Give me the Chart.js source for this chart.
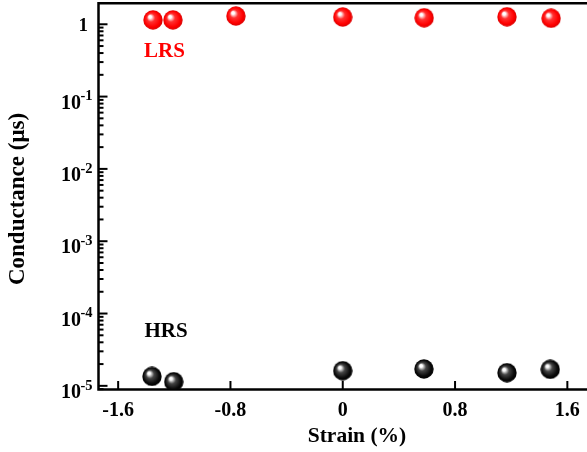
<!DOCTYPE html>
<html>
<head>
<meta charset="utf-8">
<script src="https://cdn.jsdelivr.net/npm/chart.js@4"></script>
<style>
html,body{margin:0;padding:0;background:#fff;overflow:hidden;}
#wrap{width:587px;height:452px;position:relative;}
</style>
</head>
<body>
<div id="wrap"><canvas id="c" width="587" height="452"></canvas></div>
<script>
// ---- data ----
const lrsStrain = [-1.352, -1.210, -0.761, 0, 0.580, 1.170, 1.484];
const lrsConductance = [1.15, 1.15, 1.30, 1.26, 1.23, 1.27, 1.21];
const hrsStrain = [-1.359, -1.204, 0, 0.578, 1.170, 1.478];
const hrsConductance = [1.35e-5, 1.14e-5, 1.62e-5, 1.71e-5, 1.52e-5, 1.69e-5];
const xTicks = [-1.6, -0.8, 0, 0.8, 1.6];
const xTickLabels = ['-1.6', '-0.8', '0', '0.8', '1.6'];
const yTicks = [1, 1e-1, 1e-2, 1e-3, 1e-4, 1e-5];
const yTickExps = ['', '-1', '-2', '-3', '-4', '-5'];
const xTitle = 'Strain (%)';
const yTitle = 'Conductance (μs)';

const FONT = '"Liberation Serif", "Times New Roman", serif';

function sphere(base, mid, edge, hl) {
  const s = 20, c = document.createElement('canvas');
  c.width = s; c.height = s;
  const g = c.getContext('2d');
  const r = 9.7, cx = 10, cy = 10;
  const grad = g.createRadialGradient(cx - 3.4, cy - 3.6, 0, cx, cy, r);
  grad.addColorStop(0, hl);
  grad.addColorStop(0.14, hl);
  grad.addColorStop(0.42, mid);
  grad.addColorStop(0.8, base);
  grad.addColorStop(1, edge);
  g.fillStyle = grad;
  g.beginPath(); g.arc(cx, cy, r, 0, Math.PI * 2); g.fill();
  return c;
}
const redBall = sphere('#ff0000', '#ff3030', '#d80000', '#ffffff');
const blackBall = sphere('#0a0a0a', '#454545', '#000000', '#ffffff');

const axesPlugin = {
  id: 'axesPlugin',
  beforeDatasetsDraw(chart) {
    const ctx = chart.ctx, a = chart.chartArea;
    const xs = chart.scales.x, ys = chart.scales.y;
    ctx.save();
    ctx.strokeStyle = '#000';
    ctx.lineCap = 'butt';
    // axis lines
    ctx.lineWidth = 2.5;
    ctx.beginPath();
    ctx.moveTo(a.left, a.top); ctx.lineTo(a.right + 2, a.top);
    ctx.moveTo(a.left, a.top - 1.2); ctx.lineTo(a.left, a.bottom + 1.2);
    ctx.moveTo(a.left - 1.2, a.bottom); ctx.lineTo(a.right + 2, a.bottom);
    ctx.stroke();
    // y ticks
    ctx.lineWidth = 2;
    for (let e = -6; e <= 0; e++) {
      for (let m = 1; m <= 9; m++) {
        const v = m * Math.pow(10, e);
        if (v < ys.min || v > ys.max) continue;
        const py = ys.getPixelForValue(v);
        const len = m === 1 ? 9 : 5;
        ctx.beginPath();
        ctx.moveTo(a.left, py); ctx.lineTo(a.left + len, py);
        ctx.stroke();
      }
    }
    // x ticks
    xTicks.forEach(v => {
      const px = xs.getPixelForValue(v);
      ctx.beginPath();
      ctx.moveTo(px, a.bottom); ctx.lineTo(px, a.bottom - 8.5);
      ctx.stroke();
    });
    ctx.restore();
  },
  afterDraw(chart) {
    const ctx = chart.ctx, a = chart.chartArea;
    const xs = chart.scales.x, ys = chart.scales.y;
    ctx.save();
    ctx.fillStyle = '#000';
    // x tick labels
    ctx.font = 'bold 20px ' + FONT;
    ctx.textAlign = 'center';
    ctx.textBaseline = 'middle';
    xTicks.forEach((v, i) => {
      ctx.fillText(xTickLabels[i], xs.getPixelForValue(v), 410.5);
    });
    // y tick labels
    yTicks.forEach((v, i) => {
      const py = ys.getPixelForValue(v);
      if (yTickExps[i] === '') {
        ctx.font = 'bold 19px ' + FONT;
        ctx.textAlign = 'right';
        ctx.fillText('1', 88, py + 1.5);
      } else {
        ctx.font = 'bold 14.5px ' + FONT;
        ctx.textAlign = 'right';
        ctx.fillText(yTickExps[i], 92.5, py);
        const ew = ctx.measureText(yTickExps[i]).width;
        ctx.font = 'bold 20px ' + FONT;
        ctx.fillText('10', 92.5 - ew + 0.5, py + 7);
      }
    });
    // titles
    ctx.font = 'bold 21.5px ' + FONT;
    ctx.textAlign = 'center';
    ctx.fillText(xTitle, 357, 436);
    ctx.save();
    ctx.font = 'bold 23px ' + FONT;
    ctx.translate(18.5, 199);
    ctx.rotate(-Math.PI / 2);
    ctx.fillText(yTitle, 0, 0);
    ctx.restore();
    // annotations
    ctx.font = 'bold 21px ' + FONT;
    ctx.fillStyle = '#ff0000';
    ctx.fillText('LRS', 164.5, 52);
    ctx.fillStyle = '#000';
    ctx.fillText('HRS', 166, 331.5);
    ctx.restore();
  }
};

new Chart(document.getElementById('c'), {
  type: 'scatter',
  data: {
    datasets: [
      {
        label: 'LRS',
        data: lrsStrain.map((x, i) => ({ x, y: lrsConductance[i] })),
        pointStyle: redBall, pointRadius: 10
      },
      {
        label: 'HRS',
        data: hrsStrain.map((x, i) => ({ x, y: hrsConductance[i] })),
        pointStyle: blackBall, pointRadius: 10
      }
    ]
  },
  options: {
    responsive: false,
    animation: false,
    devicePixelRatio: 1,
    layout: { autoPadding: false, padding: { left: 98.5, right: 0, top: 3.3, bottom: 62.5 } },
    plugins: { legend: { display: false }, tooltip: { enabled: false } },
    scales: {
      x: { type: 'linear', min: -1.74, max: 1.74, display: false },
      y: { type: 'logarithmic', min: 8.9e-6, max: 1.95, display: false }
    }
  },
  plugins: [axesPlugin]
});
</script>
</body>
</html>
